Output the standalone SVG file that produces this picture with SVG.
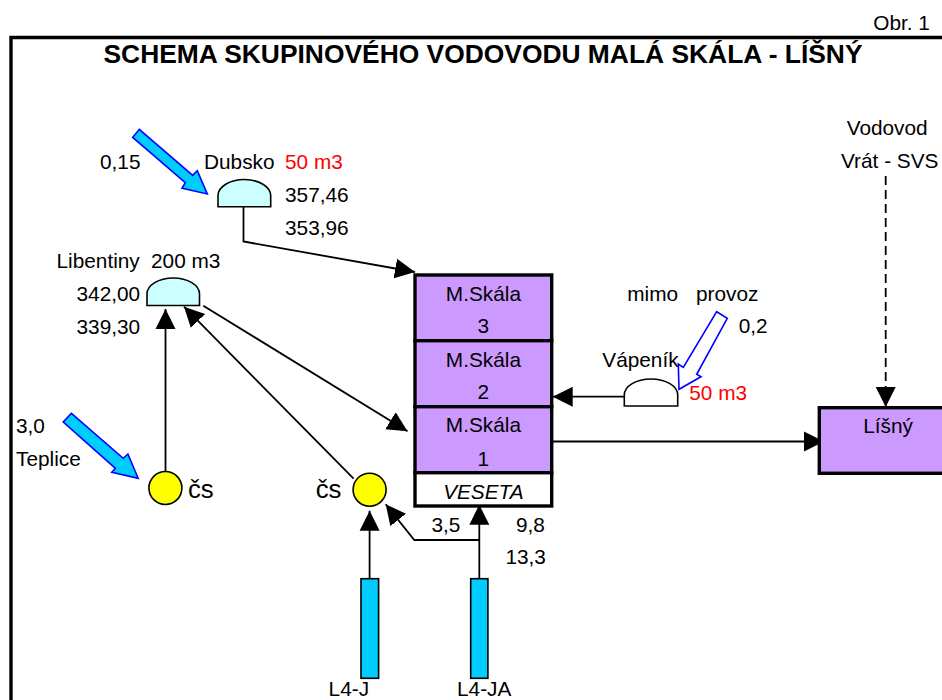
<svg xmlns="http://www.w3.org/2000/svg" width="942" height="700" viewBox="0 0 942 700">
<style>
text{font-family:"Liberation Sans",Arial,sans-serif;font-size:20.8px;fill:#000}
.c{text-anchor:middle}
.red{fill:#f00}
.frame{fill:none;stroke:#000;stroke-width:3.4}
.cell{fill:#c9f;stroke:#000;stroke-width:3.4}
.tank{fill:#cff;stroke:#000;stroke-width:1.6}
.pump{fill:#ff0;stroke:#000;stroke-width:1.6}
.bar{fill:#0cf;stroke:#000;stroke-width:1.6}
.flow{fill:#0cf;stroke:#00f;stroke-width:1.6}
.link{fill:none;stroke:#000;stroke-width:1.8;marker-end:url(#head)}
</style>
<defs>
<marker id="head" markerUnits="userSpaceOnUse" markerWidth="22" markerHeight="22" viewBox="0 -11 22 22" refX="20" refY="0" orient="auto"><path d="M0-10L20 0L0 10Z" fill="#000"/></marker>
</defs>
<rect width="942" height="700" fill="#fff"/>
<g id="frame">
<path class="frame" d="M11 700V37.5H942"/>
<text x="873.3" y="30">Obr. 1</text>
<text x="483" y="63" class="c" style="font-weight:bold;font-size:26.4px">SCHEMA SKUPINOVÉHO VODOVODU MALÁ SKÁLA - LÍŠNÝ</text>
</g>
<g id="connectors">
<path class="link" d="M243.5 206.7V241.5L415 272"/>
<path class="link" d="M165.5 472V309"/>
<path class="link" d="M353.6 478.7L184 306.7"/>
<path class="link" d="M203.3 305.7L407.5 431.3"/>
<path class="link" d="M624 396.7H552.7"/>
<path class="link" d="M552 441.5H824"/>
<path class="link" d="M885.7 176V407" stroke-dasharray="9 5"/>
<path class="link" d="M369.6 578V510.7"/>
<path class="link" d="M479.3 578V504.7"/>
<path class="link" d="M479.3 540H414.3L385.7 504.3"/>
</g>
<g id="dubsko">
<path class="tank" d="M218 206.7V195.5A26.35 16 0 0 1 270.7 195.5V206.7Z"/>
<text x="204" y="169.3">Dubsko</text><text x="285" y="169.3" class="red">50 m3</text>
<text x="285" y="202">357,46</text><text x="285" y="235">353,96</text>
</g>
<g id="dubsko-inflow">
<path class="flow" d="M139.3 129.3L192.7 175.3L197.3 170.7L207.3 194L182 188.3L185.3 182.7L132.7 137.3Z"/>
<text x="100" y="169.3">0,15</text>
</g>
<g id="libentiny">
<path class="tank" d="M147 305.5V294A26.25 16 0 0 1 199.5 294V305.5Z"/>
<text x="56.5" y="268">Libentiny</text><text x="151" y="268">200 m3</text>
<text x="76.5" y="301">342,00</text><text x="76.5" y="334">339,30</text>
</g>
<g id="teplice-inflow">
<path class="flow" d="M71.4 413.3L123.2 458.3L127.9 454L138.2 478.3L111.8 472.3L115.4 468.3L63.2 422Z"/>
<text x="16" y="433.3">3,0</text><text x="16" y="465.7">Teplice</text>
</g>
<g id="pump-1">
<circle class="pump" cx="165.4" cy="488" r="16.5"/>
<text x="187.9" y="498.3" style="font-size:25.7px">čs</text>
</g>
<g id="pump-2">
<circle class="pump" cx="369.6" cy="489.7" r="16.5"/>
<text x="315.7" y="498.3" style="font-size:25.7px">čs</text>
</g>
<g id="mskala-3">
<rect class="cell" x="415" y="275" width="136.7" height="65.7"/>
<text x="483.4" y="300.7" class="c">M.Skála</text><text x="483.4" y="333.3" class="c">3</text>
</g>
<g id="mskala-2">
<rect class="cell" x="415" y="340.7" width="136.7" height="66"/>
<text x="483.4" y="366.7" class="c">M.Skála</text><text x="483.4" y="399.3" class="c">2</text>
</g>
<g id="mskala-1">
<rect class="cell" x="415" y="406.7" width="136.7" height="66"/>
<text x="483.4" y="432.3" class="c">M.Skála</text><text x="483.4" y="465.7" class="c">1</text>
</g>
<g id="veseta">
<rect x="415" y="472.7" width="136.7" height="33.3" fill="#fff" stroke="#000" stroke-width="3.4"/>
<text x="483.4" y="498.7" class="c" font-style="italic">VESETA</text>
</g>
<g id="vapenik">
<path class="tank" style="fill:#fff" d="M624.3 406V395A26.7 16 0 0 1 677.7 395V406Z"/>
<text x="602.3" y="366.7">Vápeník</text><text x="689.3" y="400" class="red">50 m3</text>
</g>
<g id="vapenik-inflow">
<text x="627.3" y="300.7">mimo</text><text x="696" y="300.7">provoz</text>
<text x="738.7" y="333.3">0,2</text>
<path class="flow" style="fill:#fff" d="M716.7 311.7L727.3 318.3L696.7 374.3L701 376.7L679 389.3L678.3 364L683.3 367.3Z"/>
</g>
<g id="lisny">
<rect class="cell" x="819.3" y="407.7" width="130" height="65.6"/>
<text x="888" y="432.7" class="c">Líšný</text>
</g>
<g id="vodovod-label">
<text x="846.7" y="135">Vodovod</text><text x="841" y="168.3">Vrát - SVS</text>
</g>
<g id="l4-j">
<rect class="bar" x="361" y="578.7" width="17.6" height="99.6"/>
<text x="328.6" y="696">L4-J</text>
</g>
<g id="l4-ja">
<rect class="bar" x="470.7" y="578.7" width="17.2" height="99.6"/>
<text x="457" y="696">L4-JA</text>
</g>
<g id="flow-labels">
<text x="431.4" y="531.7">3,5</text><text x="516" y="531.7">9,8</text><text x="505.4" y="564.3">13,3</text>
</g>
</svg>
